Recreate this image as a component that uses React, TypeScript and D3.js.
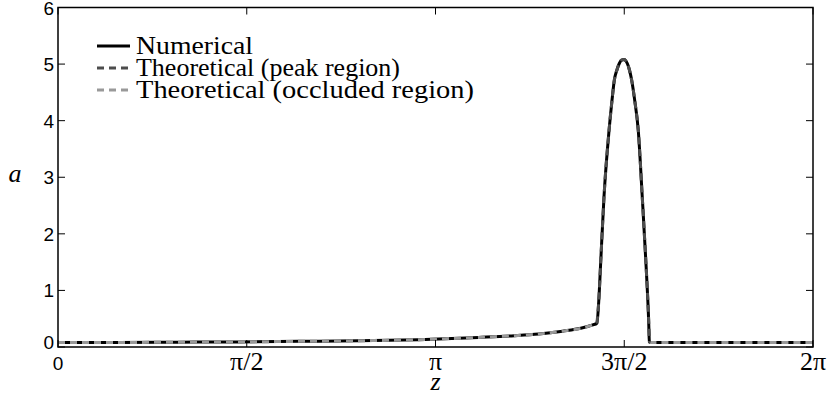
import React from "react";
import * as d3 from "d3";

const W = 834;
const H = 399;
const margin = { left: 58, right: 21, top: 7.5, bottom: 52 };

// Numerical solution a(z)
const numZ = [0, 0.5, 1, 1.5, 2, 2.5, 3, 3.5, 3.8, 4.0, 4.2, 4.35, 4.45, 4.485, 4.5, 4.516, 4.544, 4.586, 4.61, 4.63, 4.652, 4.671, 4.69, 4.712, 4.728, 4.738, 4.755, 4.774, 4.8, 4.829, 4.862, 4.893, 4.915, 4.922, 5.2, 5.6, 6.0, 6.2832];
const numA = [0.08, 0.08, 0.085, 0.09, 0.1, 0.11, 0.13, 0.17, 0.2, 0.23, 0.28, 0.33, 0.39, 0.42, 0.8, 1.48, 2.66, 3.83, 4.35, 4.72, 4.9, 5.01, 5.07, 5.08, 5.05, 5.01, 4.9, 4.72, 4.35, 3.83, 2.66, 1.48, 0.5, 0.08, 0.08, 0.08, 0.08, 0.08];

// Theoretical, peak region
const peakZ = [4.485, 4.5, 4.516, 4.544, 4.586, 4.61, 4.63, 4.652, 4.671, 4.69, 4.712, 4.728, 4.738, 4.755, 4.774, 4.8, 4.829, 4.862, 4.893, 4.915, 4.922];
const peakA = [0.42, 0.8, 1.48, 2.66, 3.83, 4.35, 4.72, 4.9, 5.01, 5.07, 5.08, 5.05, 5.01, 4.9, 4.72, 4.35, 3.83, 2.66, 1.48, 0.5, 0.08];

// Theoretical, occluded region (two pieces)
const occLeftZ = [0, 0.5, 1, 1.5, 2, 2.5, 3, 3.5, 3.8, 4.0, 4.2, 4.35, 4.45, 4.485];
const occLeftA = [0.08, 0.08, 0.085, 0.09, 0.1, 0.11, 0.13, 0.17, 0.2, 0.23, 0.28, 0.33, 0.39, 0.42];
const occRightZ = [4.922, 5.2, 5.6, 6.0, 6.2832];
const occRightA = [0.08, 0.08, 0.08, 0.08, 0.08];

const xTickVals = [0, Math.PI / 2, Math.PI, (3 * Math.PI) / 2, 2 * Math.PI];
const xTickLabels = ["0", "π/2", "π", "3π/2", "2π"];
const yTickVals = [0, 1, 2, 3, 4, 5, 6];

const legendLabels = ["Numerical", "Theoretical (peak region)", "Theoretical (occluded region)"];
const legendWidths = [117, 264, 338];
const COL_PEAK = "#4d4d4d";
const COL_OCC = "#999999";

const SERIF = '"Liberation Serif"';
const SANS = '"Liberation Sans"';

export default function App() {
  const x = d3.scaleLinear().domain([0, 2 * Math.PI]).range([margin.left, W - margin.right]);
  const y = d3.scaleLinear().domain([0, 6]).range([H - margin.bottom, margin.top]);
  const line = d3
    .line<[number, number]>()
    .x((d) => x(d[0]))
    .y((d) => y(d[1]))
    .curve(d3.curveMonotoneX);
  const zip = (zs: number[], as: number[]) => zs.map((z, i) => [z, as[i]] as [number, number]);

  const x0 = x.range()[0];
  const x1 = x.range()[1];
  const y0 = y.range()[0];
  const y1 = y.range()[1];
  const tl = 7;

  const legendX = 97;
  const legendY = [46, 68, 90];
  const legendColors = ["#000", COL_PEAK, COL_OCC];

  return (
    <svg width={W} height={H} style={{ position: "absolute", left: 0, top: 0, background: "#fff" }}>
      <rect x={0} y={0} width={W} height={H} fill="#fff" />
      {/* data */}
      <path d={line(zip(numZ, numA)) || ""} fill="none" stroke="#000" strokeWidth={3} strokeLinejoin="round" />
      <path d={line(zip(occLeftZ, occLeftA)) || ""} fill="none" stroke={COL_OCC} strokeWidth={3} strokeDasharray="7,5" />
      <path d={line(zip(occRightZ, occRightA)) || ""} fill="none" stroke={COL_OCC} strokeWidth={3} strokeDasharray="7,5" />
      <path d={line(zip(peakZ, peakA)) || ""} fill="none" stroke={COL_PEAK} strokeWidth={3} strokeDasharray="7,5" />

      {/* frame */}
      <rect x={x0} y={y1} width={x1 - x0} height={y0 - y1} fill="none" stroke="#000" strokeWidth={1.5} />
      {/* ticks */}
      {xTickVals.map((v, i) => (
        <g key={"xt" + i}>
          <line x1={x(v)} x2={x(v)} y1={y0} y2={y0 - tl} stroke="#000" strokeWidth={1} />
          <line x1={x(v)} x2={x(v)} y1={y1} y2={y1 + tl} stroke="#000" strokeWidth={1} />
          <text
            x={x(v)}
            y={y0 + 23}
            textAnchor="middle"
            style={{ fontFamily: i === 0 ? SANS : SERIF, fontSize: i === 0 ? 19 : 26 }}
          >
            {xTickLabels[i]}
          </text>
        </g>
      ))}
      {yTickVals.map((v) => (
        <g key={"yt" + v}>
          <line x1={x0} x2={x0 + tl} y1={y(v)} y2={y(v)} stroke="#000" strokeWidth={1} />
          <line x1={x1} x2={x1 - tl} y1={y(v)} y2={y(v)} stroke="#000" strokeWidth={1} />
          <text
            x={x0 - 4}
            y={y(v) + (v === 0 ? 2 : 7)}
            textAnchor="end"
            style={{ fontFamily: SANS, fontSize: 19 }}
          >
            {String(v)}
          </text>
        </g>
      ))}
      {/* axis labels */}
      <text x={(x0 + x1) / 2} y={y0 + 43} textAnchor="middle" style={{ fontFamily: SERIF, fontStyle: "italic", fontSize: 26 }}>
        z
      </text>
      <text x={15} y={(y0 + y1) / 2 + 5} textAnchor="middle" style={{ fontFamily: SERIF, fontStyle: "italic", fontSize: 26 }}>
        a
      </text>

      {/* legend */}
      {legendLabels.map((lab, i) => (
        <g key={"lg" + i}>
          <line
            x1={legendX}
            x2={legendX + 33}
            y1={legendY[i]}
            y2={legendY[i]}
            stroke={legendColors[i]}
            strokeWidth={3}
            strokeDasharray={i === 0 ? undefined : "7,5"}
          />
          <text
            x={legendX + 39}
            y={legendY[i] + 8}
            textLength={legendWidths[i]}
            lengthAdjust="spacingAndGlyphs"
            style={{ fontFamily: SERIF, fontSize: 26 }}
          >
            {lab}
          </text>
        </g>
      ))}
    </svg>
  );
}
